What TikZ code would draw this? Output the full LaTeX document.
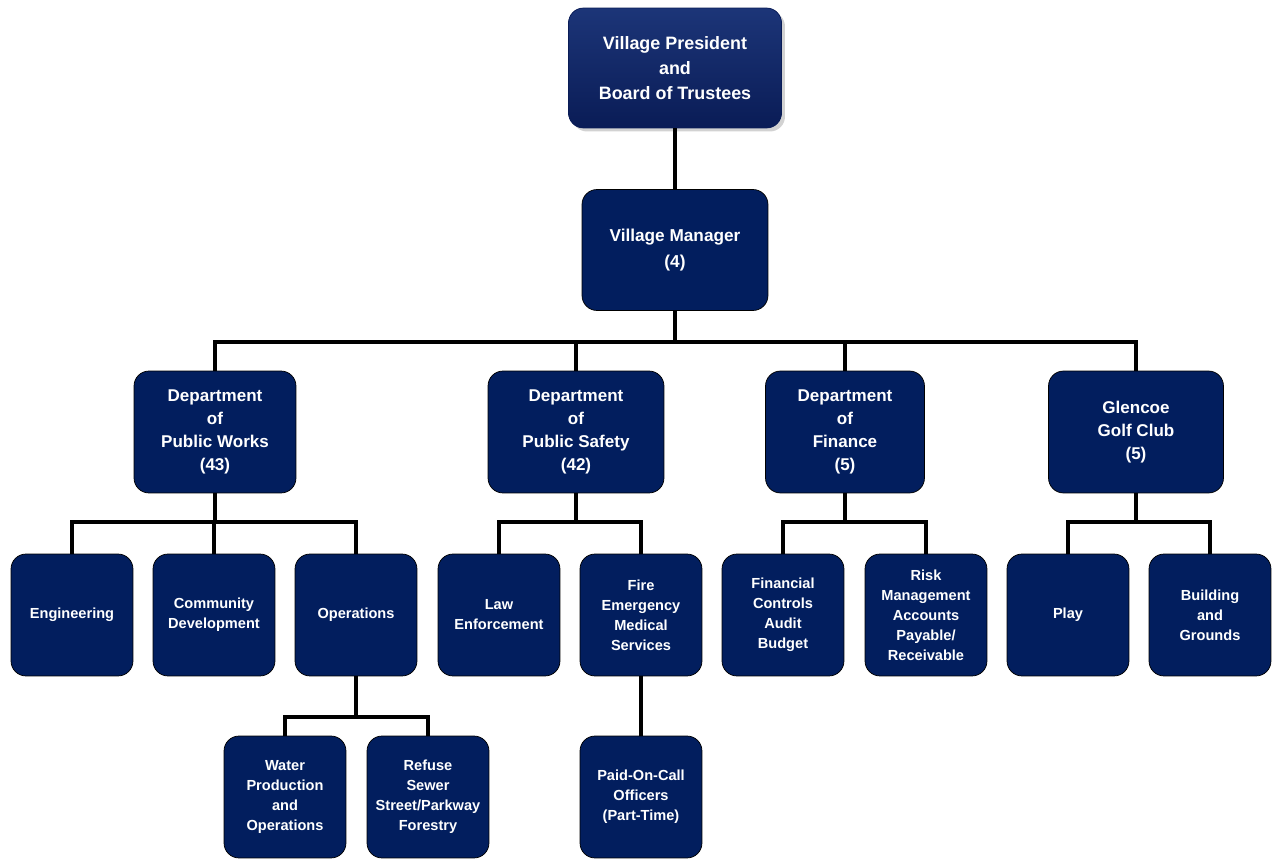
\documentclass[tikz,border=0pt]{standalone}
\usepackage{fontspec}
\setmainfont{Liberation Sans}
\usetikzlibrary{shadows}
\definecolor{navy}{HTML}{021E5E}
\definecolor{navytop}{HTML}{1C3578}
\definecolor{navybot}{HTML}{0A1C56}
\begin{document}
\begin{tikzpicture}[
    x=0.02cm, y=-0.02cm,
    box/.style={rectangle, rounded corners=0.3cm, draw=black, thin, fill=navy, text=white, align=center, inner sep=2pt},
    head/.style={box, minimum width=4.26cm, minimum height=2.4cm, top color=navytop, bottom color=navybot, draw=navybot,
        drop shadow={shadow xshift=2pt, shadow yshift=-2pt, fill=black!35}, font=\bfseries\fontsize{10.2}{14.2}\selectfont},
    mgr/.style={box, minimum width=3.72cm, minimum height=2.42cm, font=\bfseries\fontsize{9.8}{14.6}\selectfont},
    dept/.style={box, minimum height=2.44cm, font=\bfseries\fontsize{9.7}{13}\selectfont},
    unit/.style={box, minimum width=2.44cm, minimum height=2.44cm, font=\bfseries\fontsize{8.3}{11.4}\selectfont},
    link/.style={line width=2.4pt}
]
    \useasboundingbox (0,0) rectangle (1279,861);

    % Nodes
    \node[head] (board) at (675,68) {Village President\\and\\Board of Trustees};
    \node[mgr] (manager) at (675,250) {Village Manager\\(4)};

    \node[dept, minimum width=3.24cm] (works) at (215,432) {Department\\of\\Public Works\\(43)};
    \node[dept, minimum width=3.52cm] (safety) at (576,432) {Department\\of\\Public Safety\\(42)};
    \node[dept, minimum width=3.18cm] (finance) at (845,432) {Department\\of\\Finance\\(5)};
    \node[dept, minimum width=3.5cm] (golf) at (1136,432) {Glencoe\\Golf Club\\(5)};

    \node[unit] (eng) at (72,615) {Engineering};
    \node[unit] (comdev) at (214,615) {Community\\Development};
    \node[unit] (ops) at (356,615) {Operations};
    \node[unit] (law) at (499,615) {Law\\Enforcement};
    \node[unit] (fire) at (641,615) {Fire\\Emergency\\Medical\\Services};
    \node[unit] (controls) at (783,615) {Financial\\Controls\\Audit\\Budget};
    \node[unit] (risk) at (926,615) {Risk\\Management\\Accounts\\Payable/\\Receivable};
    \node[unit] (play) at (1068,615) {Play};
    \node[unit] (grounds) at (1210,615) {Building\\and\\Grounds};

    \node[unit] (water) at (285,797) {Water\\Production\\and\\Operations};
    \node[unit] (refuse) at (428,797) {Refuse\\Sewer\\Street/Parkway\\Forestry};
    \node[unit] (paid) at (641,797) {Paid-On-Call\\Officers\\(Part-Time)};

    % Top of the chart
    \draw[link] (board) -- (manager);
    \foreach \d in {works,safety,finance,golf}
        \draw[link] (manager.south) -- ++(0,31) -| (\d.north);

    % Departments to their units
    \foreach \u in {eng,comdev,ops}
        \draw[link] (works.south) -- ++(0,29) -| (\u.north);
    \foreach \u in {law,fire}
        \draw[link] (safety.south) -- ++(0,29) -| (\u.north);
    \foreach \u in {controls,risk}
        \draw[link] (finance.south) -- ++(0,29) -| (\u.north);
    \foreach \u in {play,grounds}
        \draw[link] (golf.south) -- ++(0,29) -| (\u.north);

    % Operations and fire sections
    \foreach \u in {water,refuse}
        \draw[link] (ops.south) -- ++(0,41) -| (\u.north);
    \draw[link] (fire) -- (paid);
\end{tikzpicture}
\end{document}
